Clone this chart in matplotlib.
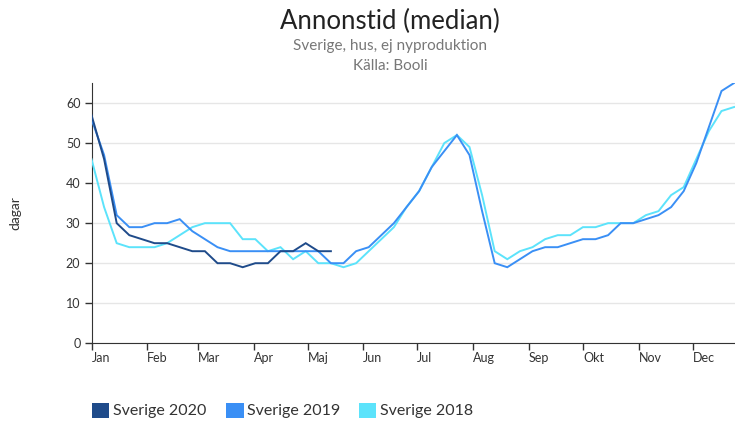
import matplotlib
matplotlib.use("Agg")
import matplotlib.pyplot as plt
from matplotlib.patches import Rectangle

plt.rcParams['font.family'] = ['Lato', 'DejaVu Sans']

# Weekly values (week index 0..51)
s2020 = [57, 46, 30, 27, 26, 25, 25, 24, 23, 23, 20, 20, 19, 20, 20, 23, 23, 25, 23, 23]
s2019 = [56, 47, 32, 29, 29, 30, 30, 31, 28, 26, 24, 23, 23, 23, 23, 23, 23, 23, 23, 20,
         20, 23, 24, 27, 30, 34, 38, 44, 48, 52, 47, 33, 20, 19, 21, 23, 24, 24, 25, 26,
         26, 27, 30, 30, 31, 32, 34, 38, 45, 54, 63, 65]
s2018 = [46, 34, 25, 24, 24, 24, 25, 27, 29, 30, 30, 30, 26, 26, 23, 24, 21, 23, 20, 20,
         19, 20, 23, 26, 29, 34, 38, 44, 50, 52, 49, 37, 23, 21, 23, 24, 26, 27, 27, 29,
         29, 30, 30, 30, 32, 33, 37, 39, 46, 53, 58, 59]
series_names = ["Sverige 2020", "Sverige 2019", "Sverige 2018"]
colors = ["#1f4b8a", "#3a8ff5", "#5ce3fb"]
month_labels = ["Jan", "Feb", "Mar", "Apr", "Maj", "Jun", "Jul", "Aug", "Sep", "Okt", "Nov", "Dec"]
month_days = [0, 31, 59, 90, 120, 151, 181, 212, 243, 273, 304, 334]
y_ticks = [0, 10, 20, 30, 40, 50, 60]

W, H = 735, 422
fig = plt.figure(figsize=(W / 100, H / 100), dpi=100)
ax = fig.add_axes([91.5 / W, (H - 343.3) / H, (735 - 91.5) / W, (343.3 - 83) / H])

for data, col in zip([s2020, s2019, s2018][::-1], colors[::-1]):
    days = [7 * i for i in range(len(data))]
    ax.plot(days, data, color=col, lw=1.4, solid_joinstyle='miter', zorder=3)

ax.set_xlim(0, (735 - 91.5) / 1.8)
ax.set_ylim(0, 65)
ax.set_xticks(month_days)
ax.set_xticklabels(month_labels, ha='left')
ax.set_yticks(y_ticks)
ax.grid(axis='y', color='#e6e6e6', lw=1)
ax.set_axisbelow(True)
for s in ['top', 'right']:
    ax.spines[s].set_visible(False)
ax.spines['left'].set_color('#333333')
ax.spines['bottom'].set_color('#333333')
ax.tick_params(axis='both', colors='#333333', labelsize=9, length=5, width=1)
ax.tick_params(axis='y', pad=3)
ax.tick_params(axis='x', pad=1.5)
ax.set_ylabel('dagar', fontsize=10, color='#333333')
ax.yaxis.set_label_coords((21 - 91.5) / (735 - 91.5), 0.5)

fig.text(390 / W, 1 - 21 / H, 'Annonstid (median)', ha='center', va='center', fontsize=18.5, color='#222222')
fig.text(390 / W, 1 - 46 / H, 'Sverige, hus, ej nyproduktion', ha='center', va='center', fontsize=11, color='#777777')
fig.text(390 / W, 1 - 66 / H, 'Källa: Booli', ha='center', va='center', fontsize=11, color='#777777')

leg_x = [91.7, 226, 358.5]
for x0, col, name in zip(leg_x, colors, series_names):
    fig.patches.append(Rectangle((x0 / W, 1 - 418.3 / H), 17.5 / W, 15.6 / H, transform=fig.transFigure,
                                 facecolor=col, edgecolor='none'))
    fig.text((x0 + 21) / W, 1 - 410.5 / H, name, ha='left', va='center', fontsize=11.5, color='#333333')

fig.savefig('out.png', dpi=100)
